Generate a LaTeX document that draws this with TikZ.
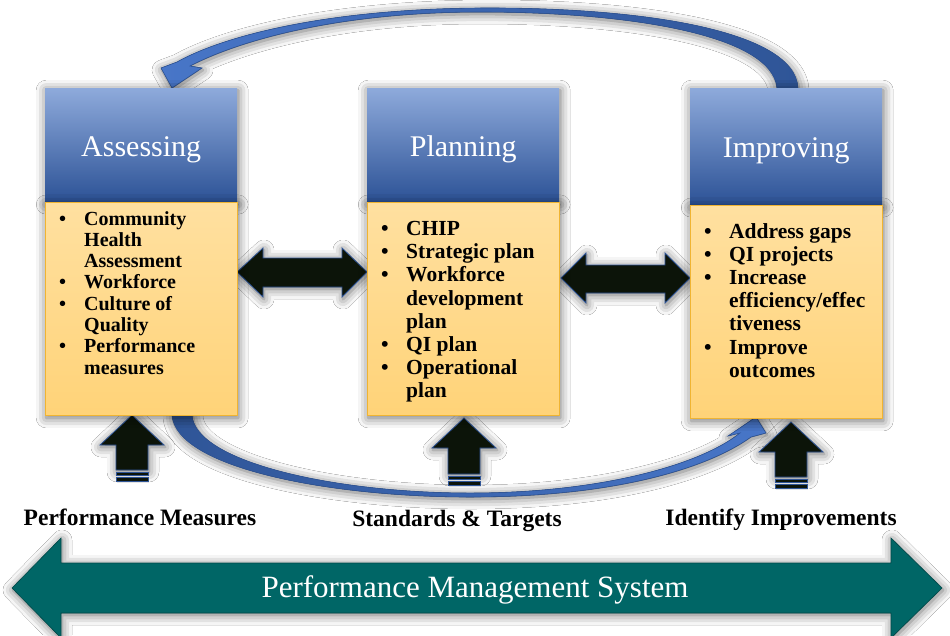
\documentclass[tikz,border=0pt]{standalone}
\usepackage{fontspec}
\setmainfont{Liberation Serif}
\usetikzlibrary{positioning,shadows.blur}

\definecolor{headtop}{RGB}{142,170,219}
\definecolor{headbot}{RGB}{44,82,150}
\definecolor{bodytop}{RGB}{255,224,160}
\definecolor{bodybot}{RGB}{255,211,120}
\definecolor{bodyline}{RGB}{240,180,50}
\definecolor{arcblue}{RGB}{72,118,200}
\definecolor{arcdark}{RGB}{47,85,151}
\definecolor{blockblack}{RGB}{12,20,9}
\definecolor{pmsteal}{RGB}{0,102,102}

\newcommand{\bul}{\makebox[25pt][l]{\textbullet}}
\newcommand{\ind}{\hspace*{25pt}}

\tikzset{
  glow/.style={blur shadow={shadow xshift=1pt, shadow yshift=-2pt, shadow blur radius=10pt, shadow opacity=60}},
  head/.style={glow, top color=headtop, bottom color=headbot, minimum width=192pt, minimum height=114pt, inner sep=0pt, text height=26pt, text depth=4pt, text=white, font=\fontsize{30}{34}\selectfont},
  body/.style={glow, top color=bodytop, bottom color=bodybot, draw=bodyline, line width=1pt, minimum width=192pt, minimum height=213pt, inner sep=0pt},
  list/.style={anchor=north west, inner sep=0pt, align=left, font=\bfseries\fontsize{21.5}{23.2}\selectfont},
  blockarrow/.style={glow, fill=blockblack, draw=arcdark, line width=0.8pt, line join=miter},
  stripe/.style={fill=blockblack, draw=arcdark, line width=0.8pt},
  footlabel/.style={inner sep=0pt, font=\bfseries\fontsize{23.5}{26}\selectfont}
}

\begin{document}
\begin{tikzpicture}[x=1pt,y=-1pt]
\path[use as bounding box, fill=white] (0,0) rectangle (950,635);

% system arrow at the bottom
\filldraw[glow, fill=pmsteal, draw=pmsteal!70!black, line width=0.6pt] (12,588) -- (61,538) -- (61,563) -- (891,563) -- (891,538) -- (942,588) -- (891,638) -- (891,613) -- (61,613) -- (61,638) -- cycle;
\node[text=white, inner sep=0pt, font=\fontsize{31}{34}\selectfont] (pms) at (475,590) {Performance Management System};

% curved arrows
\filldraw[glow, left color=arcblue, right color=arcdark, draw=arcdark, line width=0.6pt]
  (798,88) .. controls (795,30) and (640,7) .. (480,8)
  .. controls (330,9) and (225,35) .. (177,62)
  -- (161,68) -- (172,88) -- (202,68) -- (190,66)
  .. controls (240,40) and (340,12) .. (480,12)
  .. controls (630,12) and (772,35) .. (777,88) -- cycle;
\filldraw[glow, left color=arcdark, right color=arcblue, draw=arcdark, line width=0.6pt]
  (172,415) .. controls (176,468) and (330,497) .. (470,497)
  .. controls (610,497) and (705,470) .. (751,437)
  -- (766,433) -- (756,417) -- (728,436) -- (740,433)
  .. controls (700,465) and (600,493) .. (470,493)
  .. controls (335,493) and (195,462) .. (192,415) -- cycle;

% block arrows
\filldraw[blockarrow] (237,272) -- (263,248) -- (263,258) -- (342,258) -- (342,248) -- (367,272) -- (342,297) -- (342,287) -- (263,287) -- (263,297) -- cycle;
\filldraw[blockarrow] (561,278) -- (586,253) -- (586,265) -- (665,265) -- (665,253) -- (690,278) -- (665,303) -- (665,293) -- (586,293) -- (586,303) -- cycle;

\filldraw[blockarrow] (132,415) -- (164,445) -- (148,445) -- (148,470) -- (116,470) -- (116,445) -- (100,445) -- cycle;
\filldraw[stripe] (116,472) rectangle (148,475);
\filldraw[stripe] (116,477.5) rectangle (148,481);
\filldraw[blockarrow] (464,418) -- (496,448) -- (480,448) -- (480,474) -- (448,474) -- (448,448) -- (432,448) -- cycle;
\filldraw[stripe] (448,476) rectangle (480,479);
\filldraw[stripe] (448,481.5) rectangle (480,485);
\filldraw[blockarrow] (791,422) -- (823,452) -- (807,452) -- (807,477) -- (775,477) -- (775,452) -- (759,452) -- cycle;
\filldraw[stripe] (775,479) rectangle (807,482);
\filldraw[stripe] (775,484.5) rectangle (807,488);

% boxes
\node[head, anchor=north west] (assesshead) at (45,88) {Assessing};
\node[body, below=0pt of assesshead] (assessbody) {};
\node[head, anchor=north west] (planhead) at (367,88) {Planning};
\node[body, below=0pt of planhead] (planbody) {};
\node[head, anchor=north west, minimum height=117pt] (improvehead) at (690,88) {Improving};
\node[body, below=0pt of improvehead] (improvebody) {};

\node[list, font=\bfseries\fontsize{20}{21.3}\selectfont] (assesslist) at (59,211)
  {\bul Community\\ \ind Health\\ \ind Assessment\\ \bul Workforce\\ \bul Culture of\\ \ind Quality\\ \bul Performance\\ \ind measures};
\node[list] (planlist) at (381,221)
  {\bul CHIP\\ \bul Strategic plan\\ \bul Workforce\\ \ind development\\ \ind plan\\ \bul QI plan\\ \bul Operational\\ \ind plan};
\node[list] (improvelist) at (704,223)
  {\bul Address gaps\\ \bul QI projects\\ \bul Increase\\ \ind efficiency/effec\\ \ind tiveness\\ \bul Improve\\ \ind outcomes};

% labels under the arrows
\node[footlabel] (measures) at (140,517) {Performance Measures};
\node[footlabel] (targets) at (457,521) {Standards \& Targets};
\node[footlabel] (improvements) at (781,520) {Identify Improvements};
\end{tikzpicture}
\end{document}
